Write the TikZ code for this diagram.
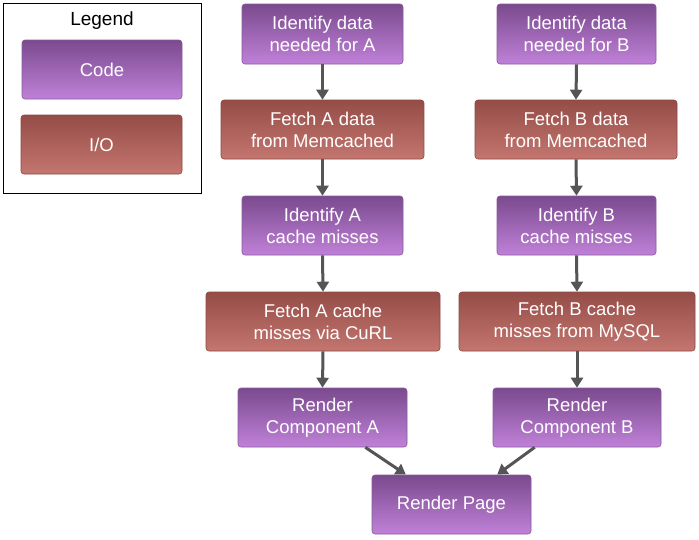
\documentclass[tikz,border=0pt]{standalone}
\usepackage{fontspec}
\setmainfont{Liberation Sans}
\usetikzlibrary{arrows.meta,shadows}
\definecolor{codetop}{HTML}{7A4A8E}
\definecolor{codebot}{HTML}{C081D8}
\definecolor{codeedge}{HTML}{8A5A9C}
\definecolor{iotop}{HTML}{954C47}
\definecolor{iobot}{HTML}{C4766F}
\definecolor{ioedge}{HTML}{8A4A45}
\definecolor{arr}{HTML}{555555}
\begin{document}
\begin{tikzpicture}[x=1pt,y=-1pt,
  box/.style={rounded corners=3pt, draw, line width=0.6pt, text=white, font=\fontsize{18.5}{22}\selectfont, align=center, inner sep=0pt},
  codebox/.style={box, draw=codeedge, top color=codetop, bottom color=codebot},
  iobox/.style={box, draw=ioedge, top color=iotop, bottom color=iobot},
  flow/.style={draw=arr, line width=3pt, -{Triangle[length=10pt,width=12pt]}}]
\useasboundingbox (0,0) rectangle (699,539);
\fill[white] (0,0) rectangle (699,539);
% legend
\draw[line width=1pt] (3,3) rectangle (201,193);
\node[font=\fontsize{19}{22}\selectfont] (legend) at (102,21) {Legend};
\node[codebox, minimum width=160pt, minimum height=59pt] (lcode) at (102,69.5) {Code};
\node[iobox, minimum width=161pt, minimum height=59pt] (lio) at (101.5,144.5) {I/O};
% column A
\node[codebox, minimum width=161pt, minimum height=60pt] (a1) at (322.5,34) {Identify data\\needed for A};
\node[iobox, minimum width=203pt, minimum height=59pt] (a2) at (322.5,129.5) {Fetch A data\\from Memcached};
\node[codebox, minimum width=161pt, minimum height=59pt] (a3) at (322.5,225.5) {Identify A\\cache misses};
\node[iobox, minimum width=234pt, minimum height=59pt] (a4) at (323,321.5) {Fetch A cache\\misses via CuRL};
\node[codebox, minimum width=169pt, minimum height=59pt] (a5) at (322.5,417.5) {Render\\Component A};
% column B
\node[codebox, minimum width=159pt, minimum height=60pt] (b1) at (576.5,34) {Identify data\\needed for B};
\node[iobox, minimum width=202pt, minimum height=59pt] (b2) at (576,129.5) {Fetch B data\\from Memcached};
\node[codebox, minimum width=159pt, minimum height=59pt] (b3) at (576.5,225.5) {Identify B\\cache misses};
\node[iobox, minimum width=236pt, minimum height=59pt] (b4) at (577,321.5) {Fetch B cache\\misses from MySQL};
\node[codebox, minimum width=168pt, minimum height=59pt] (b5) at (577,417.5) {Render\\Component B};
% final
\node[codebox, minimum width=159pt, minimum height=59pt] (rp) at (451.5,504.5) {Render Page};
% arrows
\foreach \u/\v in {a1/a2,a2/a3,a3/a4,a4/a5,b1/b2,b2/b3,b3/b4,b4/b5}
  \draw[flow] (\u.south) -- (\v.north);
\coordinate (ra) at (405,474);
\coordinate (rb) at (498,474);
\draw[flow, shorten >=-1pt] ([xshift=-42pt]a5.south east) -- (ra);
\draw[flow, shorten >=-1pt] ([xshift=42pt]b5.south west) -- (rb);
\end{tikzpicture}
\end{document}
